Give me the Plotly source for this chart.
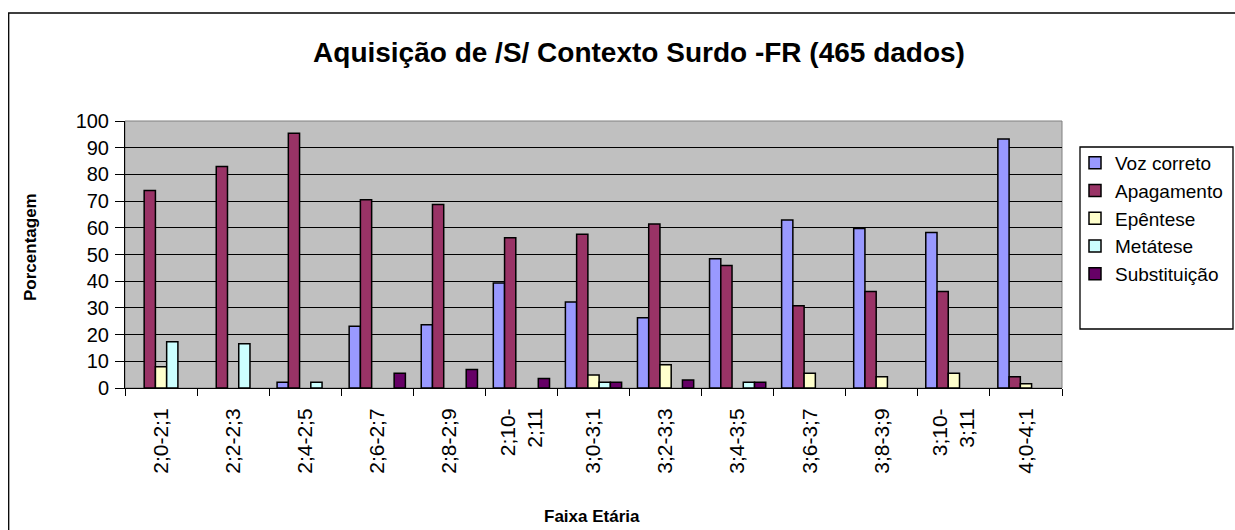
import plotly.graph_objects as go

categories = ["2;0-2;1", "2;2-2;3", "2;4-2;5", "2;6-2;7", "2;8-2;9", "2;10-<br>2;11",
              "3;0-3;1", "3;2-3;3", "3;4-3;5", "3;6-3;7", "3;8-3;9", "3;10-<br>3;11", "4;0-4;1"]
voz_correto = [0, 0, 2.2, 23.1, 23.7, 39.3, 32.2, 26.3, 48.4, 62.9, 59.7, 58.2, 93.3]
apagamento = [74, 83, 95.4, 70.5, 68.7, 56.3, 57.6, 61.4, 45.9, 30.8, 36.1, 36.1, 4.2]
epentese = [8, 0, 0, 0, 0, 0, 4.9, 8.7, 0, 5.5, 4.2, 5.5, 1.6]
metatese = [17.3, 16.6, 2.2, 0, 0, 0, 2.2, 0, 2.2, 0, 0, 0, 0]
substituicao = [0, 0, 0, 5.5, 6.9, 3.6, 2.2, 3.0, 2.2, 0, 0, 0, 0]
yticks = [0, 10, 20, 30, 40, 50, 60, 70, 80, 90, 100]

series = [
    ("Voz correto", voz_correto, "#9999FF"),
    ("Apagamento", apagamento, "#993366"),
    ("Epêntese", epentese, "#FFFFCC"),
    ("Metátese", metatese, "#CCFFFF"),
    ("Substituição", substituicao, "#660066"),
]

FONT = "Liberation Sans, Arial, sans-serif"

W, H = 1235, 530
L, R, T, B = 125, 1062, 121, 388


def px_x(p):
    return (p - L) / (R - L)


def px_y(p):
    return (B - p) / (B - T)


fig = go.Figure()
for name, vals, col in series:
    fig.add_trace(go.Bar(
        x=categories, y=[v if v else None for v in vals], name=name,
        marker=dict(color=col, line=dict(color="black", width=1.5)),
    ))

fig.update_layout(
    width=W, height=H, autosize=False,
    margin=dict(l=L, r=W - R, t=T, b=H - B, pad=0, autoexpand=False),
    paper_bgcolor="white",
    plot_bgcolor="#C0C0C0",
    barmode="group",
    bargap=0.22,
    bargroupgap=0,
    font=dict(family=FONT, color="black", size=18),
    title=dict(
        text="<b>Aquisição de /S/ Contexto Surdo -FR (465 dados)</b>",
        x=639 / W, xanchor="center",
        y=1 - 52 / H, yanchor="middle",
        font=dict(family=FONT, size=28, color="black"),
    ),
    legend=dict(
        x=px_x(1075), xanchor="left",
        y=px_y(144), yanchor="top",
        bgcolor="rgba(0,0,0,0)", borderwidth=0,
        font=dict(family=FONT, size=19, color="black"),
        itemwidth=30,
        tracegroupgap=0,
    ),
    showlegend=True,
)

fig.update_yaxes(
    range=[0, 100], tickvals=yticks,
    showgrid=True, gridcolor="black", gridwidth=1,
    showline=True, linecolor="black", linewidth=1,
    ticks="outside", ticklen=9, tickcolor="black",
    ticklabelstandoff=2,
    tickfont=dict(family=FONT, size=20, color="black"),
    zeroline=False, automargin=False,
    fixedrange=True,
)
fig.update_xaxes(
    showline=True, linecolor="black", linewidth=1,
    ticks="outside", ticklen=7, tickcolor="black", tickson="boundaries",
    tickangle=-90,
    ticklabelstandoff=11,
    tickfont=dict(family=FONT, size=21, color="black"),
    automargin=False,
    fixedrange=True,
)

# axis titles
fig.add_annotation(text="<b>Porcentagem</b>", xref="paper", yref="paper",
                   x=px_x(30), y=px_y(247), textangle=-90, showarrow=False,
                   xanchor="center", yanchor="middle",
                   font=dict(family=FONT, size=17, color="black"))
fig.add_annotation(text="<b>Faixa Etária</b>", xref="paper", yref="paper",
                   x=px_x(592), y=px_y(516), showarrow=False,
                   xanchor="center", yanchor="middle",
                   font=dict(family=FONT, size=17, color="black"))

# plot-area gray border
fig.add_shape(type="rect", xref="x domain", yref="y domain", x0=0, x1=1, y0=0, y1=1,
              line=dict(color="#808080", width=1), layer="below")
# legend box
fig.add_shape(type="rect", xref="paper", yref="paper",
              x0=px_x(1080), x1=px_x(1233), y0=px_y(329), y1=px_y(147),
              line=dict(color="black", width=1.3), fillcolor="white", layer="below")
# outer chart border (extends past the right/bottom edges)
fig.add_shape(type="rect", xref="paper", yref="paper",
              x0=px_x(8.7), x1=px_x(1300),
              y0=px_y(600), y1=px_y(13),
              line=dict(color="black", width=1.3), fillcolor="rgba(0,0,0,0)")

fig.write_html(
    "out.html",
    config={"displayModeBar": False},
    post_script="document.body.style.margin='0';document.body.style.overflow='hidden';",
)
